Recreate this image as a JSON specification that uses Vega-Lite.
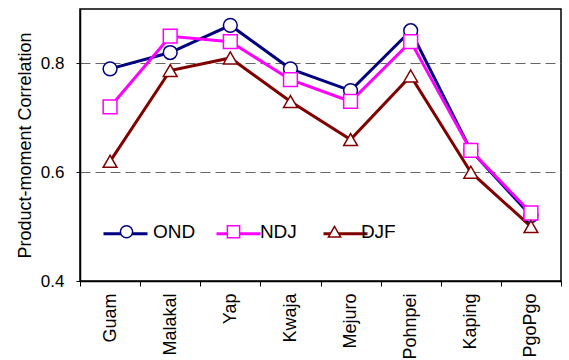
{
  "$schema": "https://vega.github.io/schema/vega-lite/v6.json",
  "width": 481,
  "height": 272,
  "autosize": "none",
  "padding": {"left": 80, "top": 9, "right": 8, "bottom": 79},
  "background": "white",
  "config": {
    "font": "Liberation Sans",
    "view": {"stroke": "black", "strokeWidth": 1.5}
  },
  "data": {
    "values": [
      {"station": "Guam", "season": "OND", "r": 0.79},
      {"station": "Malakal", "season": "OND", "r": 0.82},
      {"station": "Yap", "season": "OND", "r": 0.87},
      {"station": "Kwaja", "season": "OND", "r": 0.79},
      {"station": "Mejuro", "season": "OND", "r": 0.75},
      {"station": "Pohnpei", "season": "OND", "r": 0.86},
      {"station": "Kaping", "season": "OND", "r": 0.64},
      {"station": "PgoPgo", "season": "OND", "r": 0.52},
      {"station": "Guam", "season": "NDJ", "r": 0.72},
      {"station": "Malakal", "season": "NDJ", "r": 0.85},
      {"station": "Yap", "season": "NDJ", "r": 0.84},
      {"station": "Kwaja", "season": "NDJ", "r": 0.77},
      {"station": "Mejuro", "season": "NDJ", "r": 0.73},
      {"station": "Pohnpei", "season": "NDJ", "r": 0.84},
      {"station": "Kaping", "season": "NDJ", "r": 0.64},
      {"station": "PgoPgo", "season": "NDJ", "r": 0.525},
      {"station": "Guam", "season": "DJF", "r": 0.62},
      {"station": "Malakal", "season": "DJF", "r": 0.787},
      {"station": "Yap", "season": "DJF", "r": 0.81},
      {"station": "Kwaja", "season": "DJF", "r": 0.73},
      {"station": "Mejuro", "season": "DJF", "r": 0.66},
      {"station": "Pohnpei", "season": "DJF", "r": 0.777},
      {"station": "Kaping", "season": "DJF", "r": 0.6},
      {"station": "PgoPgo", "season": "DJF", "r": 0.5}
    ]
  },
  "encoding": {
    "x": {
      "field": "station",
      "type": "nominal",
      "sort": null,
      "scale": {"type": "band", "paddingInner": 0, "paddingOuter": 0},
      "axis": {
        "title": null,
        "labelAngle": -90,
        "labelAlign": "right",
        "labelBaseline": "middle",
        "labelFontSize": 18,
        "labelColor": "black",
        "labelPadding": 7,
        "tickBand": "extent",
        "tickSize": 5,
        "tickColor": "black",
        "domainColor": "black",
        "domainWidth": 1.5,
        "grid": false
      }
    },
    "y": {
      "field": "r",
      "type": "quantitative",
      "scale": {"domain": [0.4, 0.9], "nice": false, "zero": false},
      "axis": {
        "title": "Product-moment Correlation",
        "titleFontSize": 18,
        "titleFontWeight": "normal",
        "titleColor": "black",
        "titlePadding": 6,
        "values": [0.4, 0.6, 0.8],
        "format": ".1f",
        "labelFontSize": 17,
        "labelColor": "black",
        "labelPadding": 12,
        "tickSize": 4,
        "tickColor": "black",
        "domainColor": "black",
        "domainWidth": 1.5,
        "grid": true,
        "gridColor": "#666666",
        "gridDash": [10, 5],
        "gridWidth": 1
      }
    }
  },
  "layer": [
    {
      "mark": {"type": "line", "strokeWidth": 3},
      "encoding": {
        "stroke": {
          "field": "season",
          "type": "nominal",
          "sort": ["OND", "NDJ", "DJF"],
          "scale": {"range": ["#000080", "#FF00FF", "#800000"]},
          "legend": {
            "title": null,
            "orient": "none",
            "direction": "horizontal",
            "legendX": 22,
            "legendY": 201,
            "symbolType": "stroke",
            "symbolSize": 1936,
            "symbolStrokeWidth": 3,
            "labelFontSize": 19,
            "labelOpacity": 0,
            "labelOffset": 5,
            "columnPadding": 13,
            "zindex": 0
          }
        }
      }
    },
    {
      "mark": {"type": "point", "filled": false, "fill": "white", "fillOpacity": 1, "strokeWidth": 1.5, "size": 190, "opacity": 1},
      "encoding": {
        "color": {
          "field": "season",
          "type": "nominal",
          "scale": {"domain": ["OND", "NDJ", "DJF"], "range": ["#000080", "#FF00FF", "#800000"]},
          "legend": {
            "title": null,
            "orient": "none",
            "direction": "horizontal",
            "legendX": 37,
            "legendY": 213,
            "symbolSize": 150,
            "symbolStrokeWidth": 1.5,
            "symbolFillColor": "white",
            "labelFontSize": 19,
            "labelColor": "black",
            "labelOffset": 16.9,
            "columnPadding": 28,
            "zindex": 1
          }
        },
        "shape": {
          "field": "season",
          "type": "nominal",
          "scale": {"domain": ["OND", "NDJ", "DJF"], "range": ["circle", "square", "triangle-up"]}
        }
      }
    }
  ]
}
